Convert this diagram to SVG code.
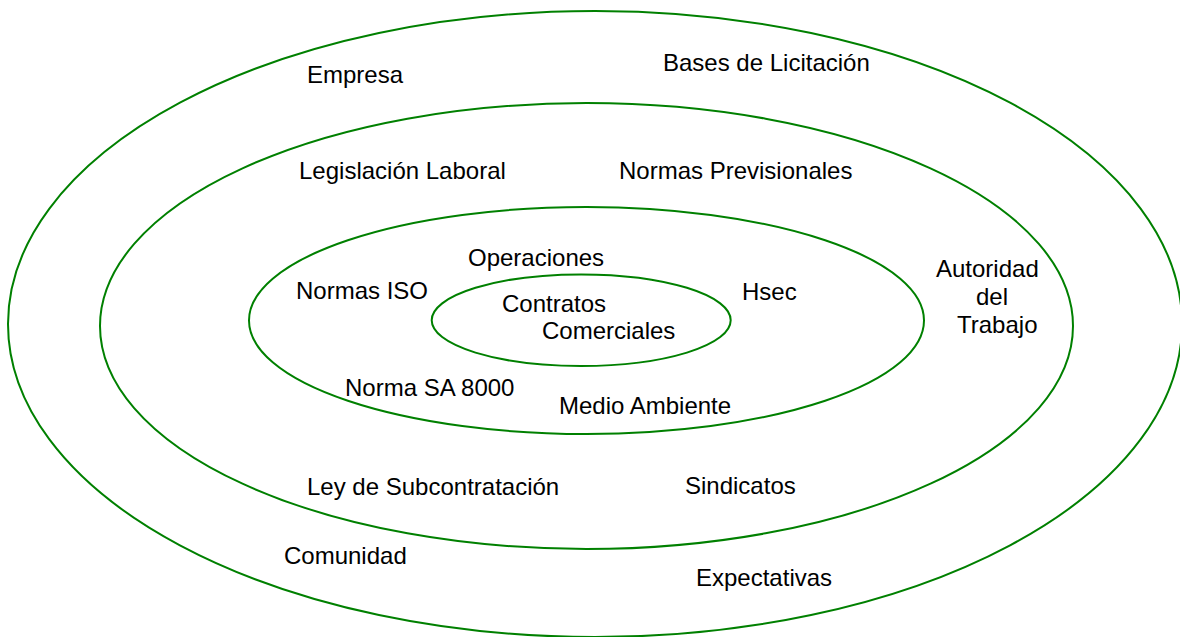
<svg xmlns="http://www.w3.org/2000/svg" width="1180" height="637" viewBox="0 0 1180 637">
<style>
.ring{fill:none;stroke:#008000;stroke-width:2}
.lbl{font-family:"Liberation Sans",Arial,sans-serif;font-size:24px;fill:#000}
</style>
<rect width="1180" height="637" fill="#fff"/>
<g id="ring-outer">
<ellipse class="ring" cx="595" cy="324" rx="587" ry="313"/>
<text class="lbl" x="307" y="83">Empresa</text>
<text class="lbl" x="663" y="71">Bases de Licitación</text>
<text class="lbl" x="284" y="564">Comunidad</text>
<text class="lbl" x="696" y="586">Expectativas</text>
</g>
<g id="ring-second">
<ellipse class="ring" cx="586.5" cy="326" rx="486.5" ry="223"/>
<text class="lbl" x="299" y="179">Legislación Laboral</text>
<text class="lbl" x="619" y="179">Normas Previsionales</text>
<text class="lbl" x="936" y="277">Autoridad</text>
<text class="lbl" x="976" y="305">del</text>
<text class="lbl" x="957" y="333">Trabajo</text>
<text class="lbl" x="307" y="495">Ley de Subcontratación</text>
<text class="lbl" x="685" y="494">Sindicatos</text>
</g>
<g id="ring-third">
<ellipse class="ring" cx="586.5" cy="320.5" rx="337.5" ry="113.5"/>
<text class="lbl" x="468" y="266">Operaciones</text>
<text class="lbl" x="296" y="299">Normas ISO</text>
<text class="lbl" x="742" y="300">Hsec</text>
<text class="lbl" x="345" y="396">Norma SA 8000</text>
<text class="lbl" x="559" y="414">Medio Ambiente</text>
</g>
<g id="ring-inner">
<ellipse class="ring" cx="581.2" cy="320.2" rx="149.5" ry="45.8"/>
<text class="lbl" x="502" y="312">Contratos</text>
<text class="lbl" x="542" y="339">Comerciales</text>
</g>
</svg>
